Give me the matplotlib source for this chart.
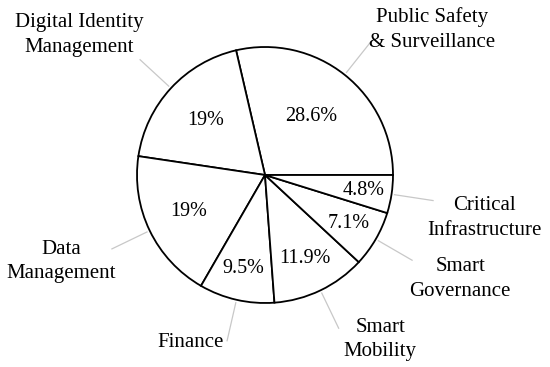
import numpy as np
import matplotlib.pyplot as plt

# data
categories = ["Public Safety\n& Surveillance", "Digital Identity\nManagement", "Data\nManagement",
              "Finance", "Smart\nMobility", "Smart\nGovernance", "Critical\nInfrastructure"]
shares = [28.6, 19, 19, 9.5, 11.9, 7.1, 4.8]
pct_text = ["28.6%", "19%", "19%", "9.5%", "11.9%", "7.1%", "4.8%"]

# layout (pixel units, figure is 550x367)
W, H = 550, 367
CX, CY, R = 265, H - 175, 128
pct_dist = [0.58, 0.63, 0.66, 0.75, 0.72, 0.76, 0.78]
# label placement: (angle deg, radius px)
label_pos = [(41, 222), (143, 233), (203, 221), (246, 183), (305, 201), (332, 221), (349, 224)]

plt.rcParams['font.family'] = ['Liberation Serif', 'DejaVu Serif']

fig = plt.figure(figsize=(W / 100, H / 100), dpi=100)
ax = fig.add_axes([0, 0, 1, 1])

wedges, _ = ax.pie(shares, startangle=0, counterclock=True, center=(CX, CY), radius=R,
                   wedgeprops=dict(facecolor="white", edgecolor="black", linewidth=1.3))

for w, txt, d, lab, (la, lr) in zip(wedges, pct_text, pct_dist, categories, label_pos):
    mid = np.deg2rad((w.theta1 + w.theta2) / 2)
    ax.text(CX + d * R * np.cos(mid), CY + d * R * np.sin(mid), txt,
            ha="center", va="center", fontsize=14.5)
    # leader line
    ax.plot([CX + 131 * np.cos(mid), CX + 170 * np.cos(mid)],
            [CY + 131 * np.sin(mid), CY + 170 * np.sin(mid)],
            color="#c8c8c8", linewidth=0.9)
    a = np.deg2rad(la)
    ax.text(CX + lr * np.cos(a), CY + lr * np.sin(a), lab, ha="center", va="center",
            fontsize=15, linespacing=1.4)

ax.set_xlim(0, W)
ax.set_ylim(0, H)
ax.set_aspect("equal")
ax.axis("off")

fig.savefig("out.png", dpi=100)
